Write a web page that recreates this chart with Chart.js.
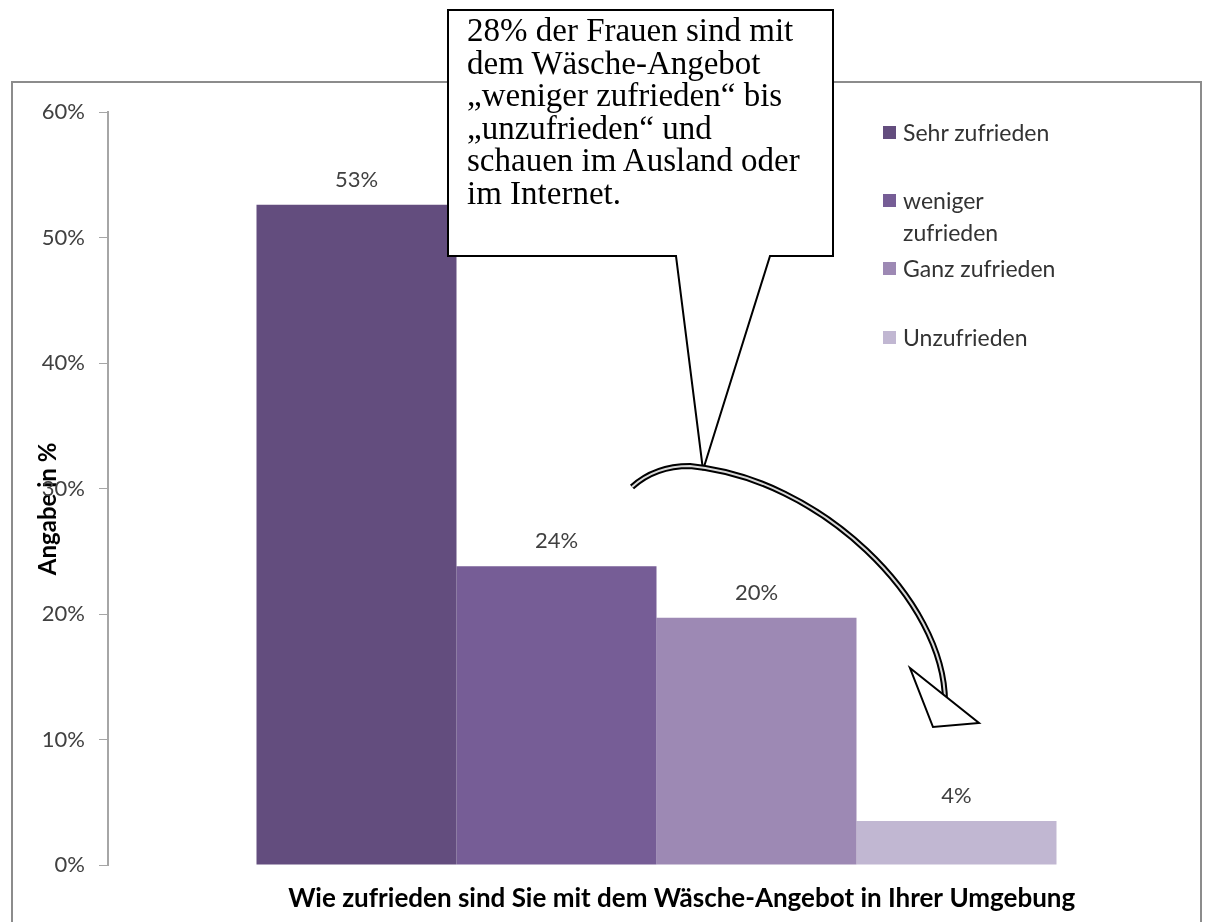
<!DOCTYPE html>
<html>
<head>
<meta charset="utf-8">
<script src="https://cdn.jsdelivr.net/npm/chart.js@4"></script>
<style>
  html, body { margin: 0; padding: 0; background: #fff; }
  #wrap { position: relative; width: 1205px; height: 922px; overflow: hidden; }
  #frame { position: absolute; left: 11px; top: 81px; width: 1191px; height: 900px; border: 2px solid #8c8c8c; box-sizing: border-box; }
  #marketChart { position: absolute; left: 0; top: 0; }
  #overlay { position: absolute; left: 0; top: 0; }
  #callout-text { position: absolute; left: 467px; top: 14px; width: 362px; font-family: "Liberation Serif", "Times New Roman", serif; font-size: 33px; line-height: 32.5px; color: #000; white-space: nowrap; }
  .legend-item { position: absolute; left: 883px; width: 170px; font-family: Lato, sans-serif; font-size: 23px; line-height: 32px; color: #333; padding-left: 20px; }
  .legend-item span { position: absolute; left: 0; top: 10px; width: 13px; height: 13px; }
</style>
</head>
<body>
<div id="wrap">
  <div id="frame"></div>
  <canvas id="marketChart" width="1205" height="922"></canvas>
  <svg id="overlay" width="1205" height="922">
    <!-- callout box with pointer -->
    <path d="M448,10 H833 V256 H770 L703,470 L676,256 H448 Z" fill="#fff" stroke="#000" stroke-width="2"/>
    <!-- curved arrow -->
    <path d="M632,487 Q655,466 690,466 C820,478 945,600 945,702" fill="none" stroke="#000" stroke-width="6"/>
    <path d="M632,487 Q655,466 690,466 C820,478 945,600 945,702" fill="none" stroke="#d9d9d9" stroke-width="2"/>
    <path d="M910,668 L979,723 L933,727 Z" fill="#fff" stroke="#000" stroke-width="2"/>
  </svg>
  <div id="callout-text">28% der Frauen sind mit<br>dem Wäsche-Angebot<br>„weniger zufrieden“ bis<br>„unzufrieden“ und<br>schauen im Ausland oder<br>im Internet.</div>
  <div id="legend"></div>
</div>
<script>
// chart data
const categories = [''];
const seriesNames = ['Sehr zufrieden', 'weniger zufrieden', 'Ganz zufrieden', 'Unzufrieden'];
const seriesValues = [52.6, 23.8, 19.7, 3.5];
const yTicks = [0, 10, 20, 30, 40, 50, 60];
const xTitle = 'Wie zufrieden sind Sie mit dem Wäsche-Angebot in Ihrer Umgebung';
const yTitle = 'Angabe in %';

const palette = ['#634d7e', '#765d96', '#9d89b4', '#c1b7d2'];
const legendTops = [116, 184, 252, 321];
const nb = '\u00a0';

// value labels above bars
const barLabels = {
    id: 'barLabels',
    afterDatasetsDraw(chart) {
        const ctx = chart.ctx;
        ctx.save();
        ctx.font = '22px Lato';
        ctx.fillStyle = '#404040';
        ctx.textAlign = 'center';
        ctx.textBaseline = 'alphabetic';
        chart.data.datasets.forEach((ds, i) => {
            const bar = chart.getDatasetMeta(i).data[0];
            ctx.fillText(Math.round(ds.data[0]) + '%', bar.x, bar.y - 18);
        });
        ctx.restore();
    }
};

new Chart(document.getElementById('marketChart'), {
    type: 'bar',
    data: {
        labels: categories,
        datasets: seriesNames.map((name, i) => ({
            label: name,
            data: [seriesValues[i]],
            backgroundColor: palette[i],
            borderWidth: 0,
            barPercentage: 1,
            categoryPercentage: 800 / 1097
        }))
    },
    options: {
        responsive: false,
        animation: false,
        devicePixelRatio: 1,
        layout: { padding: { top: 112, left: 0, right: 0, bottom: 0 } },
        plugins: {
            legend: { display: false },
            tooltip: { enabled: false }
        },
        scales: {
            x: {
                ticks: { display: false },
                grid: { display: false },
                border: { display: false },
                title: {
                    display: true,
                    // leading spaces nudge the centred title to the right like the original
                    text: nb.repeat(8) + xTitle,
                    color: '#000',
                    font: { family: 'Lato', size: 26, weight: 'bold' },
                    padding: { top: 0, bottom: 8 }
                },
                afterFit: s => { s.height = 57; }
            },
            y: {
                min: yTicks[0],
                max: yTicks[yTicks.length - 1],
                afterBuildTicks: s => { s.ticks = yTicks.map(v => ({ value: v })); },
                ticks: {
                    callback: v => v + '%',
                    color: '#404040',
                    font: { family: 'Lato', size: 22 },
                    padding: 14
                },
                grid: {
                    drawOnChartArea: false,
                    drawTicks: true,
                    tickLength: 9,
                    color: '#a6a6a6'
                },
                border: { color: '#a6a6a6', width: 2 },
                title: {
                    display: true,
                    // trailing spaces push the rotated title a bit lower
                    text: yTitle + nb.repeat(7),
                    color: '#000',
                    font: { family: 'Lato', size: 24, weight: 'bold' },
                    padding: { top: 34, bottom: 0 }
                },
                afterFit: s => { s.width = 108; }
            }
        }
    },
    plugins: [barLabels]
});

// legend on the right
const legend = document.getElementById('legend');
seriesNames.forEach((name, i) => {
    const item = document.createElement('div');
    item.className = 'legend-item';
    item.style.top = legendTops[i] + 'px';
    item.innerHTML = '<span style="background:' + palette[i] + '"></span>' + name.replace('weniger ', 'weniger<br>');
    legend.appendChild(item);
});
</script>
</body>
</html>
